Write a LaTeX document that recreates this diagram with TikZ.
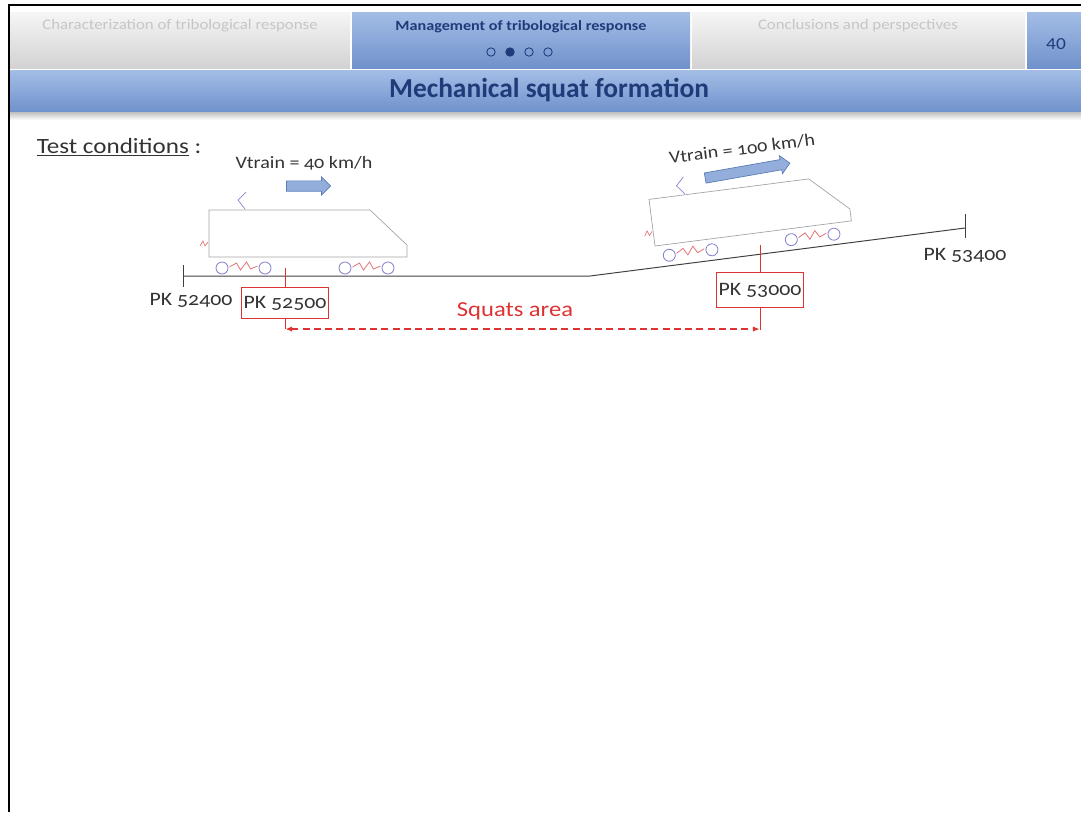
\documentclass[tikz,border=0pt]{standalone}
\usepackage{fontspec}
\setmainfont{Carlito}
\newfontfamily\wide{Carlito}[FakeStretch=1.15]
\newfontfamily\oldnum{Carlito}[Numbers=OldStyle, FakeStretch=1.15]
\usetikzlibrary{arrows.meta, shapes.arrows}

\definecolor{navy}{HTML}{1F3B7A}
\definecolor{barlight}{HTML}{A3BDE6}
\definecolor{bardark}{HTML}{7092CB}
\definecolor{tablight}{HTML}{F6F6F6}
\definecolor{tabdark}{HTML}{D2D2D2}
\definecolor{ghost}{HTML}{C6C6C6}
\definecolor{squat}{HTML}{DD3333}
\definecolor{wheelc}{HTML}{8585CF}
\definecolor{springc}{HTML}{E27A7A}
\definecolor{bodyc}{HTML}{A5A5A5}
\definecolor{arrowfill}{HTML}{93AEDB}
\definecolor{arrowline}{HTML}{5B7CB6}

% locomotive, origin at bottom left corner of the body
\tikzset{
  loco/.pic={
    \draw[bodyc, line width=0.5pt] (0,0) -- (0,-47) -- (161,-47) -- (198,-12) -- (198,0) -- cycle;
    \draw[wheelc, line width=0.5pt] (37,-65) -- (29,-57) -- (36,-48);
    \draw[springc, line width=0.5pt] (-9,-11) -- (-6,-16) -- (-4,-11) -- (-1,-15);
    \foreach \w in {13,56,136,179}
      \draw[wheelc, line width=0.6pt] (\w,11) circle [radius=0.15cm];
    \foreach \s in {34.5,157.5}
      \draw[springc, line width=0.6pt] (\s-14,10) -- (\s-7,6) -- (\s-3,13) -- (\s+3,5) -- (\s+7,12) -- (\s+14,9);
  }
}

\begin{document}
\begin{tikzpicture}[
  x=0.025cm, y=-0.025cm,
  tabtext/.style={font=\fontsize{10.4}{12}\wide, text=ghost},
  curtext/.style={font=\fontsize{10}{12}\wide\bfseries, text=navy},
  pklabel/.style={font=\fontsize{13.5}{15}\oldnum, text=black!80, inner sep=1pt},
  pkbox/.style={rectangle, draw=squat, line width=0.6pt, font=\fontsize{13.5}{15}\oldnum, text=black!80, minimum width=2.15cm, inner sep=1.5pt},
  speedtext/.style={font=\fontsize{12.4}{14}\oldnum, text=black!80},
  speedarrow/.style={single arrow, draw=arrowline, fill=arrowfill, line width=0.5pt, inner xsep=0pt, inner ysep=0.12cm, single arrow head extend=0.1cm, minimum height=1.1cm},
  rail/.style={black!75, line width=0.7pt},
  squatline/.style={squat, line width=0.7pt},
  squatarrow/.style={squat, line width=1pt, dashed, dash pattern=on 5pt off 3pt, {Latex[length=5pt]}-{Latex[length=5pt]}}
]
\useasboundingbox (0,0) rectangle (1081,812);

% Header tabs
\fill[top color=tablight, bottom color=tabdark] (10,12) rectangle (350,68);
\fill[top color=barlight, bottom color=bardark] (352,12) rectangle (690,68);
\fill[top color=tablight, bottom color=tabdark] (692,12) rectangle (1025,68);
\fill[top color=barlight, bottom color=bardark] (1027,12) rectangle (1081,68);
\node (secA) [tabtext] at (180,26) {Characterization of tribological response};
\node (secB) [curtext] at (521,27) {Management of tribological response};
\node (secC) [tabtext] at (858,26) {Conclusions and perspectives};
\node (page) [font=\fontsize{12}{14}\wide, text=navy] at (1056,44) {40};
\foreach \i/\c in {1/none, 2/navy, 3/none, 4/none}
  \node (dot\i) [circle, draw=navy, fill=\c, line width=0.6pt, inner sep=0pt, minimum size=0.21cm] at (472+19*\i,52) {};

% Title bar
\fill[top color=barlight, bottom color=bardark] (10,70) rectangle (1081,112);
\fill[top color=black!25, bottom color=white] (10,112) rectangle (1081,120);
\node (title) [font=\fontsize{19.5}{22}\selectfont\bfseries, text=navy] at (549,90) {Mechanical squat formation};

% Slide frame
\draw[black, line width=1.2pt] (9,812) -- (9,5) -- (1081,5);

\node (cond) [anchor=west, font=\fontsize{15.5}{17}\wide, text=black!80] at (32,147) {\underline{Test conditions}~:};

% Track
\coordinate (railA) at (183,276);
\coordinate (bend) at (590,276);
\coordinate (railB) at (965,228);
\draw[rail] (railA) -- (bend) -- (railB);
\draw[rail] (railA) ++(0,-11) -- ++(0,22);
\draw[rail] (railB) ++(0,-14) -- ++(0,24);

% Trains
\pic at (209,257) {loco};
\pic[rotate=7.3] at (655,246) {loco};
\node (speedA) [speedtext] at (304,163) {Vtrain = 40 km/h};
\node (goA) [speedarrow] at (306,186) {};
\node (speedB) [speedtext, rotate=7] at (742,149) {Vtrain = 100 km/h};
\node (goB) [speedarrow, rotate=10, minimum height=2.15cm] at (745,171) {};

% Kilometre posts
\node (pkA) [pklabel] at (191,300) {PK 52400};
\node (pkB) [pkbox, minimum height=0.78cm] at (285,303) {PK 52500};
\node (pkC) [pkbox, minimum height=0.86cm] at (760,290) {PK 53000};
\node (pkD) [pklabel] at (965,255) {PK 53400};
\draw[squatline] (pkB.north) -- ++(0,-19);
\draw[squatline] (pkC.north) -- ++(0,-27);
\draw[squatline] (pkB.south) -- ++(0,10) coordinate (sqA);
\draw[squatline] (pkC.south) -- ++(0,22);
\coordinate (sqB) at (pkC.south |- sqA);

% Squats area
\draw[squatarrow] (sqA) -- (sqB);
\node (squats) [font=\fontsize{15.2}{17}\wide, text=squat] at (515,311) {Squats area};
\end{tikzpicture}
\end{document}
